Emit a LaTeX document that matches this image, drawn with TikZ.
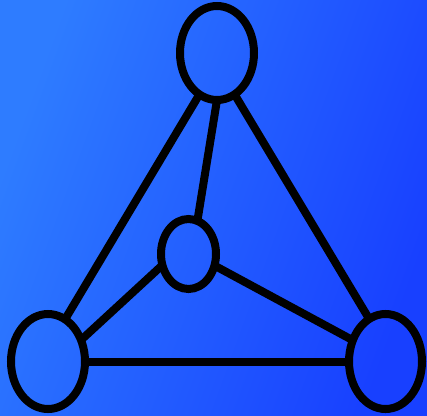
\documentclass[tikz,border=0pt]{standalone}
\usetikzlibrary{shapes.geometric, positioning}
\usepackage{xcolor}
\definecolor{BgLeft}{HTML}{2E7CFF}
\definecolor{BgRight}{HTML}{1840FF}

\begin{document}
\begin{tikzpicture}[
        x=1pt, y=-1pt,
        vertex/.style={ellipse, draw=black, line width=8pt, inner sep=0pt, outer sep=0pt, minimum width=74pt, minimum height=94pt},
        link/.style={draw=black, line width=8pt}
    ]
        % Background
        \begin{scope}[y=1pt]
            \shade [left color=BgLeft, right color=BgRight, shading angle=70] (0,0) rectangle (427,-415);
        \end{scope}
        \useasboundingbox (0,0) rectangle (427,415);

        % Nodes
        \node (apex) [vertex] at (217,53) {};
        \node (hub) [vertex, minimum width=55pt, minimum height=70pt] at (188.5,254) {};
        \node (left) [vertex, minimum height=95pt] at (48,361.5) {};
        \node (right) [vertex, minimum width=73pt, minimum height=95pt] at (385.5,361.5) {};

        % Connectors
        \draw [link] (apex.247) -- (left.68);
        \draw [link] (apex.293) -- (right.111);
        \draw [link] (apex.south) -- (hub.75);
        \draw [link] (hub.203) -- (left.33);
        \draw [link] (hub.336) -- (right.147);
        \draw [link] (left) -- (right);
    \end{tikzpicture}
\end{document}
